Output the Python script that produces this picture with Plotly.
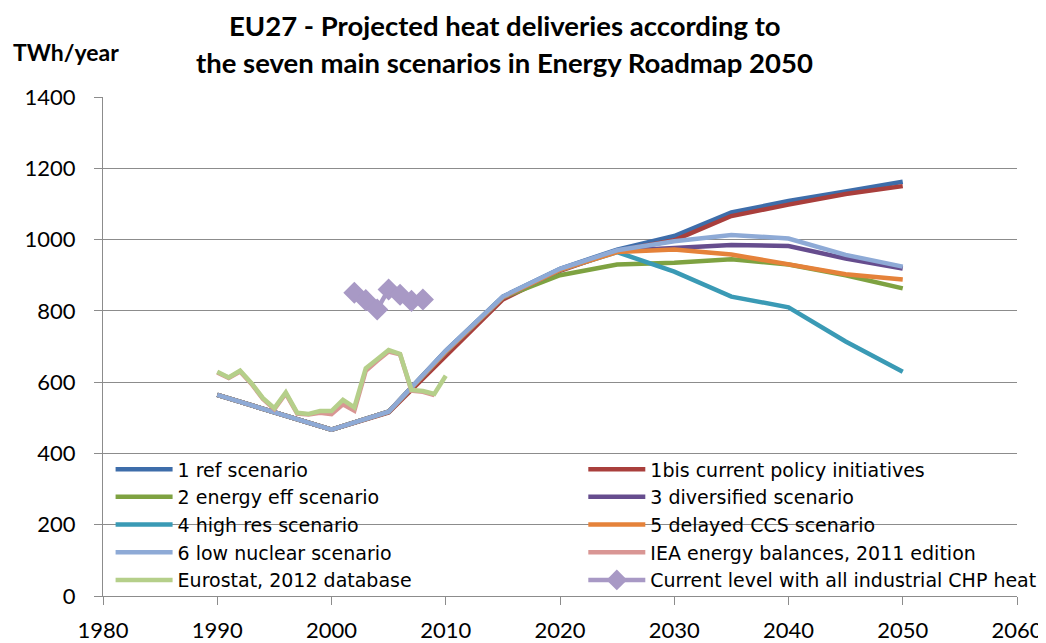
import plotly.graph_objects as go

# ---- data ----
scen_years = [1990, 1995, 2000, 2005, 2010, 2015, 2020, 2025, 2030, 2035, 2040, 2045, 2050]
s1_ref = [564, 516, 467, 517, 688, 840, 918, 972, 1010, 1076, 1108, 1135, 1162]
s1bis = [564, 516, 467, 515, 675, 832, 912, 968, 998, 1066, 1098, 1128, 1150]
s2_eff = [564, 516, 467, 517, 685, 838, 900, 930, 935, 945, 930, 900, 863]
s3_div = [564, 516, 467, 517, 685, 838, 915, 968, 978, 985, 982, 947, 919]
s4_res = [564, 516, 467, 517, 685, 838, 915, 965, 910, 840, 810, 714, 629]
s5_ccs = [564, 516, 467, 517, 685, 838, 915, 965, 972, 958, 929, 903, 888]
s6_nuc = [564, 516, 467, 517, 688, 840, 918, 970, 995, 1013, 1003, 957, 924]

hist_years = list(range(1990, 2011))
eurostat = [629, 613, 632, 597, 555, 527, 571, 514, 511, 519, 519, 550, 529, 639, 664, 690, 679, 578, 575, 567, 618]
iea_years = list(range(1990, 2010))
iea = [627, 612, 630, 595, 553, 524, 568, 512, 509, 514, 510, 538, 520, 632, 660, 686, 678, 576, 573, 564]

chp_years = [2002, 2003, 2004, 2005, 2006, 2007, 2008]
chp = [851, 830, 804, 860, 845, 828, 832]

names = ["1 ref scenario", "1bis current policy initiatives", "2 energy eff scenario",
         "3 diversified scenario", "4 high res scenario", "5 delayed CCS scenario",
         "6 low nuclear scenario", "IEA energy balances, 2011 edition",
         "Eurostat, 2012 database", "Current level with all industrial CHP heat"]
colors = ["#3E6DAA", "#A93F3C", "#7EA241", "#664D8E", "#3A9AB5", "#E5823A",
          "#8EAAD6", "#D99694", "#B5CF8A", "#A899C5"]

title_lines = ["EU27 - Projected heat deliveries according to",
               "the seven main scenarios in Energy Roadmap 2050"]
y_unit = "TWh/year"

FONT = "Lato, 'Open Sans', sans-serif"
LFONT = "'DejaVu Sans', 'Open Sans', sans-serif"

fig = go.Figure()
scen = [s1_ref, s1bis, s2_eff, s3_div, s4_res, s5_ccs, s6_nuc]
legend_of = ["legend", "legend2", "legend", "legend2", "legend", "legend2", "legend"]
for i, ys in enumerate(scen):
    fig.add_trace(go.Scatter(x=scen_years, y=ys, mode="lines", name=names[i],
                             line=dict(color=colors[i], width=4.5),
                             legend=legend_of[i]))
fig.add_trace(go.Scatter(x=iea_years, y=iea, mode="lines", name=names[7],
                         line=dict(color=colors[7], width=4.5), legend="legend2"))
fig.add_trace(go.Scatter(x=hist_years, y=eurostat, mode="lines", name=names[8],
                         line=dict(color=colors[8], width=4.5), legend="legend"))
fig.add_trace(go.Scatter(x=chp_years, y=chp, mode="lines+markers", name=names[9],
                         line=dict(color=colors[9], width=4.5),
                         marker=dict(symbol="diamond", size=17, color=colors[9]),
                         legend="legend2"))

grid = "#8C8C8C"
leg_common = dict(font=dict(family=LFONT, size=19, color="#000"), bgcolor="rgba(0,0,0,0)",
                  itemwidth=57, yanchor="top", xanchor="left", orientation="v",
                  traceorder="normal")

# the page body adds an 8px offset, so the figure is 8px smaller than the window
fig.update_layout(
    width=1038, height=635,
    margin=dict(l=95, r=29, t=89, b=47, autoexpand=False),
    paper_bgcolor="white", plot_bgcolor="white",
    font=dict(family=FONT, color="#000"),
    xaxis=dict(range=[1980, 2060], dtick=10, tick0=1980, showgrid=False,
               showline=True, linecolor=grid, linewidth=1,
               ticks="outside", ticklen=8, tickcolor=grid,
               ticklabelstandoff=7, automargin=False,
               tickfont=dict(family=FONT, size=22, color="#000"), zeroline=False),
    yaxis=dict(range=[0, 1400], dtick=200, showgrid=True, gridcolor=grid, gridwidth=1,
               showline=True, linecolor=grid, linewidth=1,
               ticks="outside", ticklen=8, tickcolor=grid,
               ticklabelstandoff=14, automargin=False,
               tickfont=dict(family=FONT, size=22, color="#000"), zeroline=False),
    legend=dict(x=0.0083, y=0.292, **leg_common),
    legend2=dict(x=0.5255, y=0.292, **leg_common),
    annotations=[
        dict(text="<b>" + title_lines[0] + "</b>",
             xref="paper", yref="paper", x=(505 - 103) / 914, y=(596 - 8.3) / 499,
             xanchor="center", yanchor="top", showarrow=False, borderpad=0,
             font=dict(family=FONT, size=27.5, color="#000")),
        dict(text="<b>" + title_lines[1] + "</b>",
             xref="paper", yref="paper", x=(504 - 103) / 914, y=(596 - 44.5) / 499,
             xanchor="center", yanchor="top", showarrow=False, borderpad=0,
             font=dict(family=FONT, size=27.5, color="#000")),
        dict(text="<b>" + y_unit + "</b>", xref="paper", yref="paper",
             x=-0.04, y=1.09, xanchor="center", yanchor="middle",
             showarrow=False, font=dict(family=FONT, size=23, color="#000")),
    ],
)

fig.write_html("out.html")
